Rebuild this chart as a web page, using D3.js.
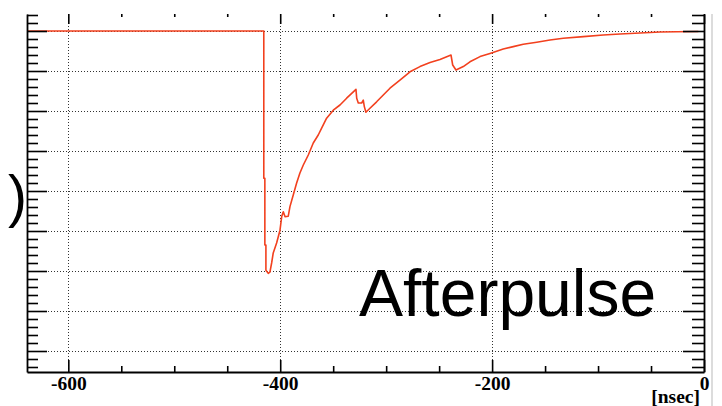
<!DOCTYPE html>
<html>
<head>
<meta charset="utf-8">
<script src="https://cdn.jsdelivr.net/npm/d3@7"></script>
<style>
  html, body { margin: 0; padding: 0; background: #fff; }
  svg { display: block; }
</style>
</head>
<body>
<svg id="chart" width="722" height="406"></svg>
<script>
// Averaged PMT waveform: main pulse followed by afterpulse bumps
const timeNs = [-639, -415.5, -415.5, -414.5, -414.5, -413.5, -413.5, -411.3, -409.7, -408.1,
  -406.6, -403.4, -400.2, -398.6, -397.1, -395.5, -392.4, -390.8, -387.7, -384.5,
  -381.4, -378.2, -373.5, -368.8, -364.1, -360.9, -356.2, -349.9, -343.6, -337.3,
  -328.5, -327.8, -326.3, -323.1, -321.6, -320.6, -319.1, -315.3, -309.0, -302.7,
  -296.4, -287.0, -277.5, -268.1, -258.6, -249.2, -238.8, -237.2, -234.1, -227.2,
  -220.9, -211.4, -202.0, -189.5, -180.0, -170.6, -157.9, -145.4, -132.8, -113.9,
  -95.1, -79.3, -60.4, -41.5, -25.8, -5.4];
const amplitude = [0, 0, -3.68, -3.68, -5.35, -5.35, -5.98, -6.06, -6.03, -5.80,
  -5.55, -5.30, -4.98, -4.64, -4.52, -4.64, -4.63, -4.39, -4.10, -3.80,
  -3.55, -3.35, -3.10, -2.80, -2.60, -2.43, -2.18, -1.98, -1.85, -1.68,
  -1.46, -1.68, -1.80, -1.80, -1.73, -1.89, -2.03, -1.93, -1.77, -1.60,
  -1.43, -1.23, -1.02, -0.89, -0.79, -0.71, -0.60, -0.85, -0.975, -0.89,
  -0.77, -0.64, -0.56, -0.45, -0.39, -0.33, -0.28, -0.225, -0.18, -0.14,
  -0.10, -0.075, -0.05, -0.025, -0.018, -0.012];

const xMajorTicks = [-600, -400, -200, 0];
const xTickLabels = ["-600", "-400", "-200", "0"];
const xMinorTicks = [-550, -500, -450, -350, -300, -250, -150, -100, -50];
const yMajorTicks = [0, -1, -2, -3, -4, -5, -6, -7, -8];
const yMinorTicks = [0.4, 0.2, -0.2, -0.4, -0.6, -0.8, -1.2, -1.4, -1.6, -1.8,
  -2.2, -2.4, -2.6, -2.8, -3.2, -3.4, -3.6, -3.8, -4.2, -4.4, -4.6, -4.8,
  -5.2, -5.4, -5.6, -5.8, -6.2, -6.4, -6.6, -6.8, -7.2, -7.4, -7.6, -7.8,
  -8.2, -8.4];

const frame = { left: 27, right: 704, top: 14, bottom: 372 };
const svg = d3.select("#chart");

const x = d3.scaleLinear().domain([-639, 0]).range([frame.left, frame.right]);
const y = d3.scaleLinear().domain([-8.525, 0.425]).range([frame.bottom, frame.top]);

// outer pad edge
svg.append("line")
  .attr("x1", 712).attr("x2", 712).attr("y1", frame.top).attr("y2", 406)
  .attr("stroke", "#d0d0d0").attr("stroke-width", 1.5);

// dotted grid
const grid = svg.append("g")
  .attr("stroke", "#333").attr("stroke-width", 1).attr("stroke-dasharray", "1,2");
grid.selectAll("line.gx").data(xMajorTicks.filter(d => d > -639 && d < 0)).join("line")
  .attr("class", "gx")
  .attr("x1", d => Math.round(x(d)) + 0.5).attr("x2", d => Math.round(x(d)) + 0.5)
  .attr("y1", frame.top).attr("y2", frame.bottom);
grid.selectAll("line.gy").data(yMajorTicks).join("line")
  .attr("class", "gy")
  .attr("x1", frame.left).attr("x2", frame.right)
  .attr("y1", d => Math.round(y(d)) + 0.5).attr("y2", d => Math.round(y(d)) + 0.5);

// waveform
svg.append("defs").append("clipPath").attr("id", "frameClip")
  .append("rect").attr("x", frame.left).attr("y", frame.top)
  .attr("width", frame.right - frame.left).attr("height", frame.bottom - frame.top);

const points = timeNs.map((t, i) => [t, amplitude[i]]);
svg.append("path")
  .datum(points)
  .attr("clip-path", "url(#frameClip)")
  .attr("fill", "none")
  .attr("stroke", "#f2401e")
  .attr("stroke-width", 1.6)
  .attr("stroke-linejoin", "round")
  .attr("d", d3.line().x(d => x(d[0])).y(d => y(d[1])));

// axes
function styleAxis(g, keepDomain) {
  g.selectAll("line").attr("stroke", "#000").attr("stroke-width", 1.6);
  g.selectAll("path.domain").attr("stroke", keepDomain ? "#000" : "none").attr("stroke-width", 1.8);
}

// bottom
const bottomMajor = svg.append("g").attr("transform", `translate(0,${frame.bottom})`)
  .call(d3.axisBottom(x).tickValues(xMajorTicks).tickSizeInner(-12).tickSizeOuter(0)
    .tickPadding(4).tickFormat((d, i) => xTickLabels[i]));
styleAxis(bottomMajor, true);
bottomMajor.selectAll("text")
  .attr("font-family", "'Liberation Serif', 'Times New Roman', serif")
  .attr("font-weight", "bold").attr("font-size", "19.5px").attr("fill", "#000");
const bottomMinor = svg.append("g").attr("transform", `translate(0,${frame.bottom})`)
  .call(d3.axisBottom(x).tickValues(xMinorTicks).tickSizeInner(-6).tickSizeOuter(0).tickFormat(""));
styleAxis(bottomMinor, false);

// top
const topMajor = svg.append("g").attr("transform", `translate(0,${frame.top})`)
  .call(d3.axisTop(x).tickValues(xMajorTicks).tickSizeInner(-10).tickSizeOuter(0).tickFormat(""));
styleAxis(topMajor, false);
const topMinor = svg.append("g").attr("transform", `translate(0,${frame.top})`)
  .call(d3.axisTop(x).tickValues(xMinorTicks).tickSizeInner(-3).tickSizeOuter(0).tickFormat(""));
styleAxis(topMinor, false);

// left
const leftMajor = svg.append("g").attr("transform", `translate(${frame.left},0)`)
  .call(d3.axisLeft(y).tickValues(yMajorTicks).tickSizeInner(-20).tickSizeOuter(0).tickFormat(""));
styleAxis(leftMajor, true);
const leftMinor = svg.append("g").attr("transform", `translate(${frame.left},0)`)
  .call(d3.axisLeft(y).tickValues(yMinorTicks).tickSizeInner(-11).tickSizeOuter(0).tickFormat(""));
styleAxis(leftMinor, false);

// right
const rightMajor = svg.append("g").attr("transform", `translate(${frame.right},0)`)
  .call(d3.axisRight(y).tickValues(yMajorTicks).tickSizeInner(-21).tickSizeOuter(0).tickFormat(""));
styleAxis(rightMajor, true);
const rightMinor = svg.append("g").attr("transform", `translate(${frame.right},0)`)
  .call(d3.axisRight(y).tickValues(yMinorTicks).tickSizeInner(-12).tickSizeOuter(0).tickFormat(""));
styleAxis(rightMinor, false);

// axis unit
svg.append("text")
  .attr("x", 700).attr("y", 403)
  .attr("text-anchor", "end")
  .attr("font-family", "'Liberation Serif', 'Times New Roman', serif")
  .attr("font-weight", "bold").attr("font-size", "19.5px")
  .text("[nsec]");

// panel annotations
svg.append("text")
  .attr("x", 359).attr("y", 316)
  .attr("font-family", "'Liberation Sans', Arial, Helvetica, sans-serif")
  .attr("font-size", "66px").attr("fill", "#000")
  .text("Afterpulse");

const panelTag = svg.append("text")
  .attr("x", 27).attr("y", 216)
  .attr("text-anchor", "end")
  .attr("font-family", "'Liberation Sans', Arial, Helvetica, sans-serif")
  .attr("font-size", "57px").attr("fill", "#000");
panelTag.append("tspan").text("(2");
panelTag.append("tspan").attr("dx", 6).text(")");
</script>
</body>
</html>
